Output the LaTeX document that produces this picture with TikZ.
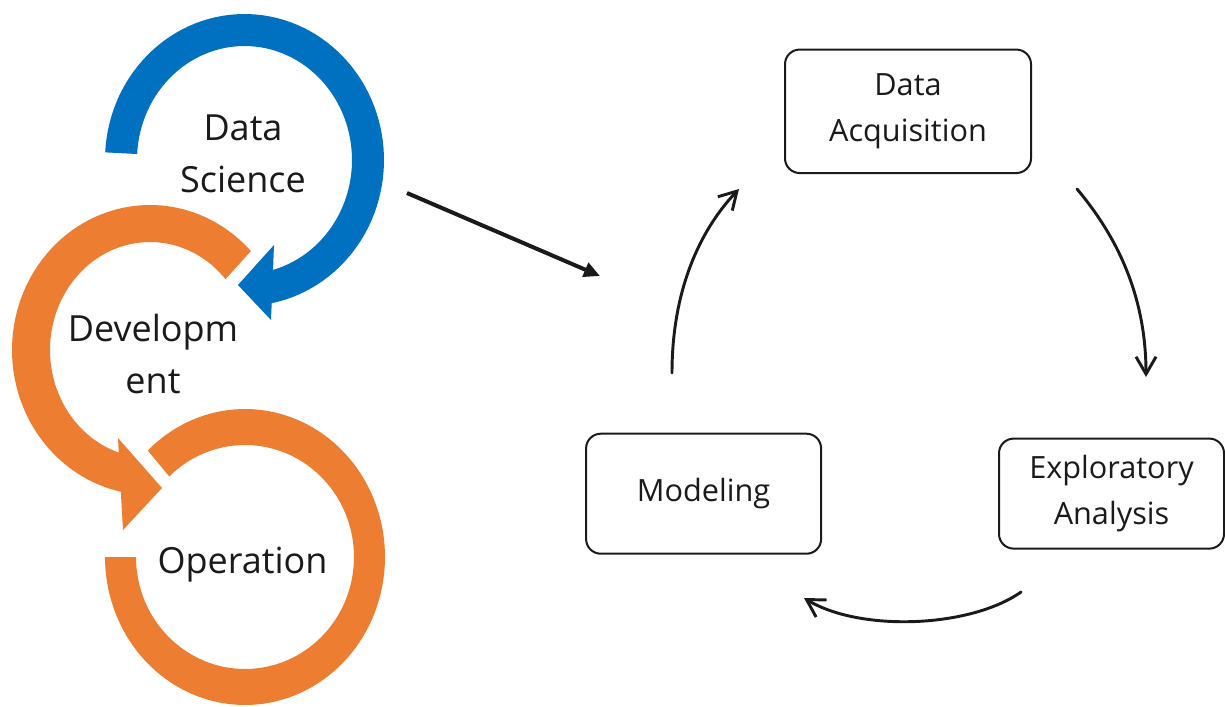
\documentclass[tikz,border=0pt]{standalone}
\usepackage{fontspec}
\setmainfont{Open Sans}
\usetikzlibrary{arrows.meta}
\definecolor{dsblue}{HTML}{0070C0}
\definecolor{dsorange}{HTML}{ED7D31}
\definecolor{ink}{HTML}{1A1A1A}

\begin{document}
\begin{tikzpicture}[x=0.75pt, y=-0.75pt,
  ringlabel/.style={text=ink, font=\fontsize{27}{39}\selectfont, align=center, inner sep=0pt},
  stage/.style={draw=ink, line width=1.5pt, rounded corners=11pt, text=ink,
    font=\fontsize{23}{35}\selectfont, align=center, inner sep=0pt},
  cyclearrow/.style={draw=ink, line width=2.2pt, line cap=round,
    -{Straight Barb[length=13pt,width=15pt]}},
  leadarrow/.style={draw=ink, line width=3pt, -{Triangle[length=12pt,width=11pt]}}]

\useasboundingbox (0,0) rectangle (1225,707);

% Data Science: blue circular arrow, clockwise from the left tail
\fill[dsblue]
  plot[domain=183:438.75, samples=90] ({244.5+139.5*cos(\x)},{160+146*sin(\x)})
  -- (271,320) -- (238,285) -- (274,245)
  -- plot[domain=434.6:183, samples=90] ({244.5+107.5*cos(\x)},{160+114*sin(\x)})
  -- cycle;

% Development: orange circular arrow, counter-clockwise into Operation
\fill[dsorange]
  plot[domain=-43:-257.8, samples=100] ({150+138*cos(\x)},{350+145*sin(\x)})
  -- (123,530) -- (162,488) -- (118,438)
  -- plot[domain=-251.8:-41, samples=100] ({150+100*cos(\x)},{350+108*sin(\x)})
  -- cycle;

% Operation: open orange ring
\fill[dsorange]
  plot[domain=180:-134, samples=120] ({245+140*cos(\x)},{557+148*sin(\x)})
  -- plot[domain=-134:180, samples=120] ({245+109*cos(\x)},{557+112*sin(\x)})
  -- cycle;

% ring labels
\node[ringlabel] (ds) at (243,153.5) {Data\\Science};
\node[ringlabel] (dev) at (153,354) {Developm\\ent};
\node[ringlabel, anchor=base] (op) at (242.5,573) {Operation};

% stages of the cycle
\node[stage, minimum width=184.5pt, minimum height=92.6pt] (acq) at (908,111.3) {Data\\Acquisition};
\node[stage, minimum width=168.75pt, minimum height=82.5pt] (eda) at (1111.5,493.6) {Exploratory\\Analysis};
\node[stage, minimum width=176.25pt, minimum height=90pt] (model) at (703.6,493.7) {Modeling};

% lead arrow from the rings to the cycle
\coordinate (leadfrom) at (407,193);
\coordinate (leadto) at (600,276);
\draw[leadarrow] (leadfrom) -- (leadto);

% cycle arrows
\coordinate (acqout) at (1077,189);
\coordinate (edain) at (1146,377);
\coordinate (edaout) at (1021,592);
\coordinate (modelin) at (804,598);
\coordinate (modelout) at (672,373);
\coordinate (acqin) at (739,189);
\draw[cyclearrow] (acqout) .. controls (1120,240) and (1146,300) .. (edain);
\draw[cyclearrow] (edaout) .. controls (970,628) and (860,632) .. (modelin);
\draw[cyclearrow] (modelout) .. controls (672,290) and (700,230) .. (acqin);
\end{tikzpicture}
\end{document}
